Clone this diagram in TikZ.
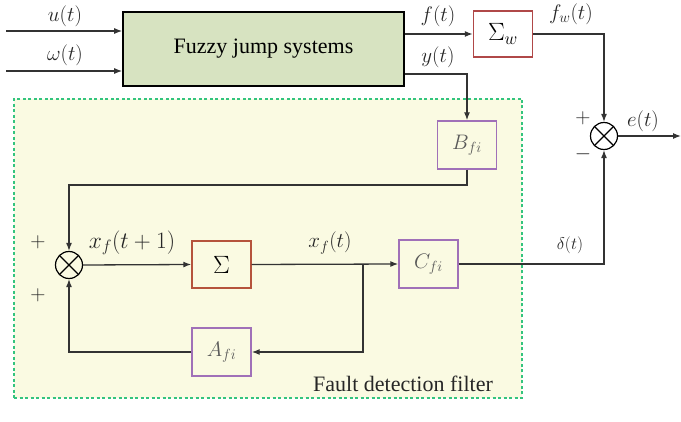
\RequirePackage{fix-cm}
\documentclass[tikz,border=0pt]{standalone}
\usepackage{fontspec}
\setmainfont{Liberation Serif}
\usetikzlibrary{arrows.meta}
\definecolor{fuzzyfill}{HTML}{D7E3C1}
\definecolor{filterfill}{HTML}{FAFAE2}
\definecolor{dashgreen}{HTML}{33C47E}
\definecolor{sigred}{HTML}{B5533C}
\definecolor{sigwred}{HTML}{B04848}
\definecolor{purp}{HTML}{A070B8}
\definecolor{linegray}{HTML}{333333}
\begin{document}
\begin{tikzpicture}[x=1pt,y=-1pt,
  wire/.style={draw=linegray,line width=1.3pt},
  arr/.style={wire,-{Latex[length=8pt,width=6pt]}},
  blk/.style={draw,line width=1.4pt,rectangle,inner sep=0pt,minimum width=59pt,minimum height=48pt},
  mixer/.style={circle,draw=black,line width=1.2pt,minimum size=27pt,inner sep=0pt,
    path picture={\draw[line width=1.2pt] (path picture bounding box.north west)--(path picture bounding box.south east)
      (path picture bounding box.north east)--(path picture bounding box.south west);}},
  lab/.style={text=black!85,font=\fontsize{21}{25}\selectfont},
  slab/.style={text=black!85,font=\fontsize{17}{20}\selectfont},
  blab/.style={text=black!65,font=\fontsize{21}{24}\selectfont}]
\useasboundingbox (0,0) rectangle (681,422);
% filter region
\node[draw=dashgreen,fill=filterfill,dashed,dash pattern=on 3pt off 2.5pt,line width=1.3pt,
  rectangle,minimum width=508pt,minimum height=299pt,inner sep=0pt] (filt) at (268,248.5) {};
% blocks
\node[draw=black,fill=fuzzyfill,line width=1.6pt,rectangle,minimum width=281pt,minimum height=74pt,inner sep=0pt,
  font=\fontsize{22}{26}\selectfont] (fuzzy) at (263.5,49) {Fuzzy jump systems};
\node[blk,draw=sigwred,fill=white,minimum height=46pt,font=\fontsize{25}{30}\selectfont] (sigw) at (503,34) {$\Sigma_w$};
\node[blk,draw=purp] (bfi) at (467,145) {};
\node[blab] at (bfi) {$B_{fi}$};
\node[blk,draw=sigred,minimum height=47pt,font=\fontsize{25}{30}\selectfont] (sig) at (221.5,264.5) {$\Sigma$};
\node[blk,draw=purp] (cfi) at (428.5,264) {};
\node[blab] at (cfi) {$C_{fi}$};
\node[blk,draw=purp] (afi) at (221.5,352) {};
\node[blab] at (afi) {$A_{fi}$};
\node[mixer] (mx1) at (604,136) {};
\node[mixer] (mx2) at (69,265) {};
% coordinates
\coordinate (uin) at (6,31);
\coordinate (win) at (6,71);
\coordinate (eout) at (681,136);
\coordinate (ycorner) at (467,74);
\coordinate (bturn) at (467,185);
\coordinate (bturn2) at (69,185);
\coordinate (jn) at (363,264);
\coordinate (jn2) at (363,352);
% connectors
\draw[arr] (uin) -- (uin -| fuzzy.west);
\draw[arr] (win) -- (win -| fuzzy.west);
\draw[arr] (fuzzy.east |- sigw.west) -- (sigw.west);
\draw[arr] (fuzzy.east |- ycorner) -- (ycorner) -- (bfi.north);
\draw[arr] (bfi.south) -- (bturn) -- (bturn2) -- (mx2.north);
\draw[arr] (mx2.east) -- (sig.west);
\draw[arr] (sig.east) -- (cfi.west);
\draw[arr] (jn) -- (jn2) -- (afi.east);
\draw[arr] (afi.west) -| (mx2.south);
\draw[arr] (cfi.east) -| (mx1.south);
\draw[arr] (sigw.east) -| (mx1.north);
\draw[arr] (mx1.east) -- (eout);
% labels
\node[lab] (lu) at (65,16) {$u(t)$};
\node[lab] (lw) at (65,55) {$\omega(t)$};
\node[lab] (lf) at (438,16) {$f(t)$};
\node[lab] (ly) at (438,57) {$y(t)$};
\node[lab] (lfw) at (571,14) {$f_w(t)$};
\node[lab] (le) at (643,121) {$e(t)$};
\node[lab] (lp1) at (583,118) {$+$};
\node[lab] (lm1) at (583,154) {$-$};
\node[lab] (lp2) at (38,242) {$+$};
\node[lab] (lp3) at (38,295) {$+$};
\node[lab,font=\fontsize{23.5}{28}\selectfont] (lx1) at (132,243) {$x_f(t+1)$};
\node[lab] (lx) at (330,243) {$x_f(t)$};
\node[slab] (ld) at (570,245) {$\delta(t)$};
\node[text=black!85,font=\fontsize{22}{26}\selectfont] (ftxt) at (403,384) {Fault detection filter};
\end{tikzpicture}
\end{document}
